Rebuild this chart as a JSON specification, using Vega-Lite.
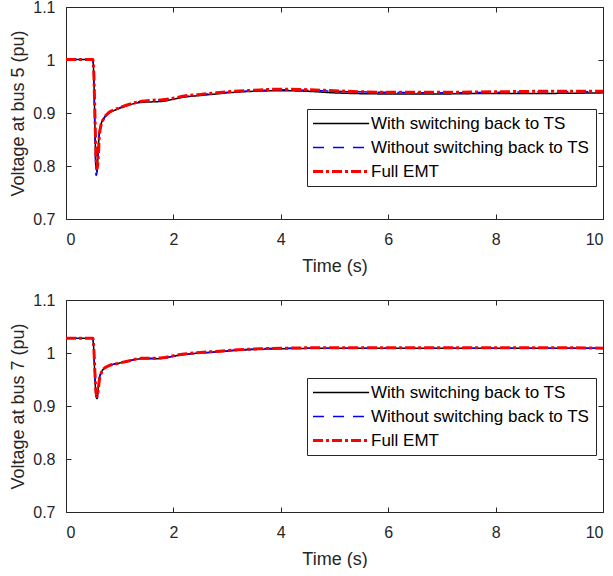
{
  "$schema": "https://vega.github.io/schema/vega-lite/v6.json",
  "background": "white",
  "padding": {"left": 9, "top": -1, "right": 10, "bottom": 0},
  "config": {
    "view": {"stroke": null},
    "font": "Liberation Sans",
    "axis": {
      "domainColor": "#262626",
      "tickColor": "#262626",
      "labelColor": "#262626",
      "titleColor": "#262626",
      "labelFont": "Liberation Sans",
      "titleFont": "Liberation Sans",
      "labelFontSize": 16,
      "titleFontSize": 18,
      "titleFontWeight": "normal",
      "grid": false,
      "tickSize": -5,
      "domainWidth": 1,
      "tickWidth": 1
    },
    "legend": {
      "labelFont": "Liberation Sans",
      "labelFontSize": 17,
      "labelColor": "black",
      "labelLimit": 400
    }
  },
  "datasets": {
    "bus5": [
      {"t": 0, "With switching back to TS": 1.001, "Without switching back to TS": 1.001, "Full EMT": 1.001},
      {"t": 0.5, "With switching back to TS": 1.001, "Without switching back to TS": 1.001, "Full EMT": 1.001},
      {"t": 0.52, "With switching back to TS": 0.96, "Without switching back to TS": 0.955, "Full EMT": 0.97},
      {"t": 0.54, "With switching back to TS": 0.87, "Without switching back to TS": 0.85, "Full EMT": 0.89},
      {"t": 0.56, "With switching back to TS": 0.795, "Without switching back to TS": 0.782, "Full EMT": 0.82},
      {"t": 0.58, "With switching back to TS": 0.79, "Without switching back to TS": 0.79, "Full EMT": 0.795},
      {"t": 0.6, "With switching back to TS": 0.83, "Without switching back to TS": 0.83, "Full EMT": 0.815},
      {"t": 0.62, "With switching back to TS": 0.862, "Without switching back to TS": 0.862, "Full EMT": 0.855},
      {"t": 0.65, "With switching back to TS": 0.878, "Without switching back to TS": 0.878, "Full EMT": 0.876},
      {"t": 0.7, "With switching back to TS": 0.889, "Without switching back to TS": 0.889, "Full EMT": 0.889},
      {"t": 0.8, "With switching back to TS": 0.9, "Without switching back to TS": 0.9, "Full EMT": 0.901},
      {"t": 0.9, "With switching back to TS": 0.905, "Without switching back to TS": 0.906, "Full EMT": 0.906},
      {"t": 1.0, "With switching back to TS": 0.909, "Without switching back to TS": 0.91, "Full EMT": 0.91},
      {"t": 1.2, "With switching back to TS": 0.916, "Without switching back to TS": 0.917, "Full EMT": 0.917},
      {"t": 1.4, "With switching back to TS": 0.92, "Without switching back to TS": 0.922, "Full EMT": 0.922},
      {"t": 1.6, "With switching back to TS": 0.921, "Without switching back to TS": 0.924, "Full EMT": 0.924},
      {"t": 1.8, "With switching back to TS": 0.922, "Without switching back to TS": 0.925, "Full EMT": 0.925},
      {"t": 2.0, "With switching back to TS": 0.926, "Without switching back to TS": 0.928, "Full EMT": 0.928},
      {"t": 2.2, "With switching back to TS": 0.93, "Without switching back to TS": 0.931, "Full EMT": 0.932},
      {"t": 2.5, "With switching back to TS": 0.933, "Without switching back to TS": 0.935, "Full EMT": 0.935},
      {"t": 2.8, "With switching back to TS": 0.936, "Without switching back to TS": 0.937, "Full EMT": 0.938},
      {"t": 3.0, "With switching back to TS": 0.938, "Without switching back to TS": 0.939, "Full EMT": 0.94},
      {"t": 3.5, "With switching back to TS": 0.941, "Without switching back to TS": 0.942, "Full EMT": 0.943},
      {"t": 4.0, "With switching back to TS": 0.942, "Without switching back to TS": 0.944, "Full EMT": 0.945},
      {"t": 4.5, "With switching back to TS": 0.941, "Without switching back to TS": 0.943, "Full EMT": 0.944},
      {"t": 5.0, "With switching back to TS": 0.938, "Without switching back to TS": 0.941, "Full EMT": 0.942},
      {"t": 6.0, "With switching back to TS": 0.936, "Without switching back to TS": 0.939, "Full EMT": 0.939},
      {"t": 7.0, "With switching back to TS": 0.936, "Without switching back to TS": 0.938, "Full EMT": 0.939},
      {"t": 8.0, "With switching back to TS": 0.937, "Without switching back to TS": 0.939, "Full EMT": 0.94},
      {"t": 9.0, "With switching back to TS": 0.937, "Without switching back to TS": 0.94, "Full EMT": 0.941},
      {"t": 10.0, "With switching back to TS": 0.938, "Without switching back to TS": 0.94, "Full EMT": 0.941}
    ],
    "bus7": [
      {"t": 0, "With switching back to TS": 1.028, "Without switching back to TS": 1.028, "Full EMT": 1.028},
      {"t": 0.5, "With switching back to TS": 1.028, "Without switching back to TS": 1.028, "Full EMT": 1.028},
      {"t": 0.52, "With switching back to TS": 1.0, "Without switching back to TS": 1.0, "Full EMT": 1.005},
      {"t": 0.54, "With switching back to TS": 0.95, "Without switching back to TS": 0.95, "Full EMT": 0.96},
      {"t": 0.56, "With switching back to TS": 0.918, "Without switching back to TS": 0.918, "Full EMT": 0.925},
      {"t": 0.58, "With switching back to TS": 0.914, "Without switching back to TS": 0.916, "Full EMT": 0.918},
      {"t": 0.6, "With switching back to TS": 0.935, "Without switching back to TS": 0.935, "Full EMT": 0.93},
      {"t": 0.62, "With switching back to TS": 0.952, "Without switching back to TS": 0.952, "Full EMT": 0.948},
      {"t": 0.65, "With switching back to TS": 0.962, "Without switching back to TS": 0.962, "Full EMT": 0.96},
      {"t": 0.7, "With switching back to TS": 0.97, "Without switching back to TS": 0.97, "Full EMT": 0.97},
      {"t": 0.8, "With switching back to TS": 0.976, "Without switching back to TS": 0.976, "Full EMT": 0.976},
      {"t": 1.0, "With switching back to TS": 0.981, "Without switching back to TS": 0.981, "Full EMT": 0.981},
      {"t": 1.2, "With switching back to TS": 0.986, "Without switching back to TS": 0.986, "Full EMT": 0.986},
      {"t": 1.4, "With switching back to TS": 0.989, "Without switching back to TS": 0.99, "Full EMT": 0.99},
      {"t": 1.6, "With switching back to TS": 0.989, "Without switching back to TS": 0.99, "Full EMT": 0.99},
      {"t": 1.8, "With switching back to TS": 0.99, "Without switching back to TS": 0.99, "Full EMT": 0.991},
      {"t": 2.0, "With switching back to TS": 0.994, "Without switching back to TS": 0.994, "Full EMT": 0.995},
      {"t": 2.2, "With switching back to TS": 0.997, "Without switching back to TS": 0.997, "Full EMT": 0.998},
      {"t": 2.5, "With switching back to TS": 1.0, "Without switching back to TS": 1.0, "Full EMT": 1.001},
      {"t": 2.8, "With switching back to TS": 1.002, "Without switching back to TS": 1.002, "Full EMT": 1.003},
      {"t": 3.2, "With switching back to TS": 1.005, "Without switching back to TS": 1.006, "Full EMT": 1.006},
      {"t": 3.6, "With switching back to TS": 1.007, "Without switching back to TS": 1.008, "Full EMT": 1.008},
      {"t": 4.0, "With switching back to TS": 1.008, "Without switching back to TS": 1.009, "Full EMT": 1.009},
      {"t": 5.0, "With switching back to TS": 1.009, "Without switching back to TS": 1.009, "Full EMT": 1.01},
      {"t": 6.0, "With switching back to TS": 1.009, "Without switching back to TS": 1.009, "Full EMT": 1.01},
      {"t": 7.0, "With switching back to TS": 1.009, "Without switching back to TS": 1.009, "Full EMT": 1.01},
      {"t": 8.0, "With switching back to TS": 1.009, "Without switching back to TS": 1.009, "Full EMT": 1.01},
      {"t": 9.0, "With switching back to TS": 1.009, "Without switching back to TS": 1.009, "Full EMT": 1.01},
      {"t": 10.0, "With switching back to TS": 1.009, "Without switching back to TS": 1.009, "Full EMT": 1.009}
    ]
  },
  "spacing": 17,
  "resolve": {"scale": {"color": "independent", "strokeDash": "independent"}},
  "vconcat": [
    {
      "width": 537,
      "height": 212,
      "data": {"name": "bus5"},
      "transform": [{"fold": ["With switching back to TS", "Without switching back to TS", "Full EMT"], "as": ["series", "v"]}],
      "encoding": {
        "color": {"field": "series", "type": "nominal",
          "scale": {"domain": ["With switching back to TS", "Without switching back to TS", "Full EMT"], "range": ["#000000", "#0000FF", "#FF0000"]},
          "legend": {"title": null, "orient": "none", "legendX": 241, "legendY": 102, "symbolType": "M-1,0H5.6", "symbolSize": 289, "strokeColor": "#262626", "fillColor": "white", "padding": 6, "rowPadding": 6, "labelOffset": 41,
            "encode": {"symbols": {"update": {"strokeWidth": {"signal": "datum.value === 'Full EMT' ? 3 : 1.5"}, "fill": {"value": "transparent"}}}}}},
        "strokeDash": {"field": "series", "type": "nominal",
          "scale": {"domain": ["With switching back to TS", "Without switching back to TS", "Full EMT"], "range": [[1, 0], [11, 9], [10, 3, 3, 3]]}}
      },
      "layer": [
        {"transform": [{"filter": "datum.series === 'With switching back to TS'"}],
         "mark": {"type": "line", "interpolate": "monotone", "strokeWidth": 1.5},
         "encoding": {
           "x": {"field": "t", "type": "quantitative", "scale": {"domain": [0, 10]}, "axis": {"values": [0, 2, 4, 6, 8, 10], "format": "d", "title": "Time (s)", "labelPadding": 17, "titlePadding": 10}},
           "y": {"field": "v", "type": "quantitative", "scale": {"domain": [0.7, 1.1]}, "axis": {"values": [0.7, 0.8, 0.9, 1, 1.1], "format": "~g", "title": "Voltage at bus 5 (pu)", "labelPadding": 16, "titlePadding": 5}}
         }},
        {"transform": [{"filter": "datum.series === 'Without switching back to TS'"}],
         "mark": {"type": "line", "interpolate": "monotone", "strokeWidth": 1.5},
         "encoding": {
           "x": {"field": "t", "type": "quantitative", "scale": {"domain": [0, 10]}, "axis": {"orient": "top", "values": [0, 2, 4, 6, 8, 10], "labels": false, "title": null}},
           "y": {"field": "v", "type": "quantitative", "scale": {"domain": [0.7, 1.1]}, "axis": {"orient": "right", "values": [0.7, 0.8, 0.9, 1, 1.1], "labels": false, "title": null}}
         }},
        {"transform": [{"filter": "datum.series === 'Full EMT'"}],
         "mark": {"type": "line", "interpolate": "monotone", "strokeWidth": 3},
         "encoding": {
           "x": {"field": "t", "type": "quantitative", "axis": null},
           "y": {"field": "v", "type": "quantitative", "axis": null}
         }}
      ],
      "resolve": {"axis": {"x": "independent", "y": "independent"}}
    },
    {
      "width": 537,
      "height": 212,
      "data": {"name": "bus7"},
      "transform": [{"fold": ["With switching back to TS", "Without switching back to TS", "Full EMT"], "as": ["series", "v"]}],
      "encoding": {
        "color": {"field": "series", "type": "nominal",
          "scale": {"domain": ["With switching back to TS", "Without switching back to TS", "Full EMT"], "range": ["#000000", "#0000FF", "#FF0000"]},
          "legend": {"title": null, "orient": "none", "legendX": 241, "legendY": 78, "symbolType": "M-1,0H5.6", "symbolSize": 289, "strokeColor": "#262626", "fillColor": "white", "padding": 6, "rowPadding": 6, "labelOffset": 41,
            "encode": {"symbols": {"update": {"strokeWidth": {"signal": "datum.value === 'Full EMT' ? 3 : 1.5"}, "fill": {"value": "transparent"}}}}}},
        "strokeDash": {"field": "series", "type": "nominal",
          "scale": {"domain": ["With switching back to TS", "Without switching back to TS", "Full EMT"], "range": [[1, 0], [11, 9], [10, 3, 3, 3]]}}
      },
      "layer": [
        {"transform": [{"filter": "datum.series === 'With switching back to TS'"}],
         "mark": {"type": "line", "interpolate": "monotone", "strokeWidth": 1.5},
         "encoding": {
           "x": {"field": "t", "type": "quantitative", "scale": {"domain": [0, 10]}, "axis": {"values": [0, 2, 4, 6, 8, 10], "format": "d", "title": "Time (s)", "labelPadding": 17, "titlePadding": 10}},
           "y": {"field": "v", "type": "quantitative", "scale": {"domain": [0.7, 1.1]}, "axis": {"values": [0.7, 0.8, 0.9, 1, 1.1], "format": "~g", "title": "Voltage at bus 7 (pu)", "labelPadding": 16, "titlePadding": 5}}
         }},
        {"transform": [{"filter": "datum.series === 'Without switching back to TS'"}],
         "mark": {"type": "line", "interpolate": "monotone", "strokeWidth": 1.5},
         "encoding": {
           "x": {"field": "t", "type": "quantitative", "scale": {"domain": [0, 10]}, "axis": {"orient": "top", "values": [0, 2, 4, 6, 8, 10], "labels": false, "title": null}},
           "y": {"field": "v", "type": "quantitative", "scale": {"domain": [0.7, 1.1]}, "axis": {"orient": "right", "values": [0.7, 0.8, 0.9, 1, 1.1], "labels": false, "title": null}}
         }},
        {"transform": [{"filter": "datum.series === 'Full EMT'"}],
         "mark": {"type": "line", "interpolate": "monotone", "strokeWidth": 3},
         "encoding": {
           "x": {"field": "t", "type": "quantitative", "axis": null},
           "y": {"field": "v", "type": "quantitative", "axis": null}
         }}
      ],
      "resolve": {"axis": {"x": "independent", "y": "independent"}}
    }
  ]
}
